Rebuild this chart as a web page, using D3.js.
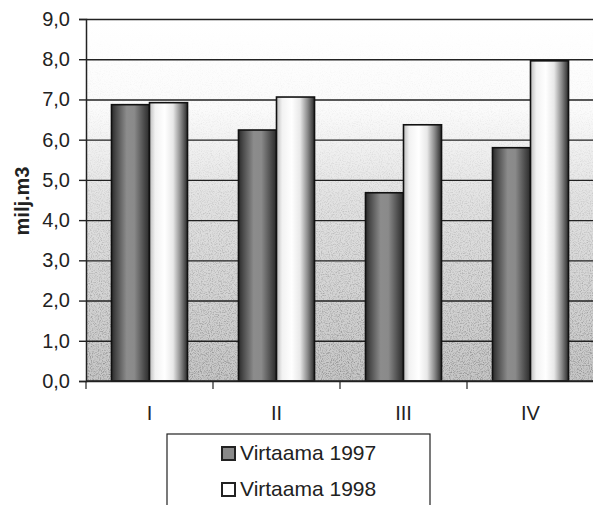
<!DOCTYPE html>
<html>
<head>
<meta charset="utf-8">
<script src="https://cdn.jsdelivr.net/npm/d3@7"></script>
<style>
  body { margin: 0; background: #fff; }
  text { font-family: Arial, "Liberation Sans", sans-serif; fill: #222; }
</style>
</head>
<body>
<div id="chart"></div>
<script>
// Virtaama per quarter, milj. m3
const quarters = ["I", "II", "III", "IV"];
const series = ["Virtaama 1997", "Virtaama 1998"];
const values1997 = [6.87, 6.24, 4.68, 5.80];
const values1998 = [6.92, 7.06, 6.37, 7.96];
const yTicks = [0, 1, 2, 3, 4, 5, 6, 7, 8, 9];

const width = 593, height = 505;
const margin = {top: 19, right: -1, bottom: 124, left: 86};
const plotW = width - margin.left - margin.right;
const plotH = height - margin.top - margin.bottom;

const svg = d3.select("#chart").append("svg")
    .attr("width", width)
    .attr("height", height);

const defs = svg.append("defs");

// background: white at top fading into a speckled grey
const bg = defs.append("linearGradient").attr("id", "bgGrad")
    .attr("x1", 0).attr("y1", 0).attr("x2", 0).attr("y2", 1);
bg.append("stop").attr("offset", "0%").attr("stop-color", "#ffffff");
bg.append("stop").attr("offset", "25%").attr("stop-color", "#fbfbfb");
bg.append("stop").attr("offset", "50%").attr("stop-color", "#e2e2e2");
bg.append("stop").attr("offset", "100%").attr("stop-color", "#c6c6c6");

const noise = defs.append("filter").attr("id", "speckle")
    .attr("x", 0).attr("y", 0).attr("width", "100%").attr("height", "100%");
noise.append("feTurbulence").attr("type", "fractalNoise")
    .attr("baseFrequency", 0.9).attr("numOctaves", 2).attr("seed", 3);
noise.append("feColorMatrix").attr("type", "matrix")
    .attr("values", "0 0 0 0 0  0 0 0 0 0  0 0 0 0 0  0 0 0 -1.6 0.9");

const fade = defs.append("linearGradient").attr("id", "fadeGrad")
    .attr("x1", 0).attr("y1", 0).attr("x2", 0).attr("y2", 1);
fade.append("stop").attr("offset", "0%").attr("stop-color", "#fff").attr("stop-opacity", 0);
fade.append("stop").attr("offset", "35%").attr("stop-color", "#fff").attr("stop-opacity", 0.2);
fade.append("stop").attr("offset", "100%").attr("stop-color", "#fff").attr("stop-opacity", 1);
defs.append("mask").attr("id", "fadeMask")
  .append("rect").attr("width", plotW).attr("height", plotH).attr("fill", "url(#fadeGrad)");

// cylinder shading for the bars
const darkGrad = defs.append("linearGradient").attr("id", "dark");
[["0%", "#2a2a2a"], ["12%", "#4a4a4a"], ["40%", "#8c8c8c"], ["60%", "#8a8a8a"], ["85%", "#4d4d4d"], ["100%", "#2a2a2a"]]
  .forEach(([o, c]) => darkGrad.append("stop").attr("offset", o).attr("stop-color", c));
const lightGrad = defs.append("linearGradient").attr("id", "light");
[["0%", "#bdbdbd"], ["15%", "#f2f2f2"], ["40%", "#ffffff"], ["62%", "#e8e8e8"], ["82%", "#8a8a8a"], ["100%", "#2a2a2a"]]
  .forEach(([o, c]) => lightGrad.append("stop").attr("offset", o).attr("stop-color", c));
const fills = ["url(#dark)", "url(#light)"];

const g = svg.append("g").attr("transform", `translate(${margin.left},${margin.top})`);

const x = d3.scaleBand().domain(quarters).range([0, plotW]).padding(0);
const x1 = d3.scaleBand().domain(series).range([0, x.bandwidth()])
    .paddingInner(0).paddingOuter(0.67);
const y = d3.scaleLinear().domain([0, 9]).range([plotH, 0]);

g.append("rect").attr("width", plotW).attr("height", plotH).attr("fill", "url(#bgGrad)");
g.append("rect").attr("width", plotW).attr("height", plotH)
    .attr("filter", "url(#speckle)").attr("mask", "url(#fadeMask)").attr("opacity", 0.45);

// gridlines
g.append("g")
    .call(d3.axisLeft(y).tickValues(yTicks).tickSize(-plotW).tickFormat(""))
    .call(s => s.select(".domain").remove())
    .call(s => s.selectAll("line").attr("stroke", "#222").attr("stroke-width", 1.4));

// bars
const data = quarters.map((q, i) => ({q, vals: [values1997[i], values1998[i]]}));
const groups = g.selectAll(".grp").data(data).join("g")
    .attr("transform", d => `translate(${x(d.q)},0)`);
groups.selectAll("rect").data(d => d.vals.map((v, j) => ({s: series[j], v, j}))).join("rect")
    .attr("x", d => x1(d.s))
    .attr("y", d => y(d.v))
    .attr("width", x1.bandwidth())
    .attr("height", d => plotH - y(d.v))
    .attr("fill", d => fills[d.j])
    .attr("stroke", "#111")
    .attr("stroke-width", 1.6);

// y axis
const yAxis = g.append("g")
    .call(d3.axisLeft(y).tickValues(yTicks).tickSize(7).tickPadding(9)
      .tickFormat(d => d3.format(".1f")(d).replace(".", ",")));
yAxis.select(".domain").attr("stroke", "#222").attr("stroke-width", 1.5);
yAxis.selectAll("line").attr("stroke", "#222").attr("stroke-width", 1.4);
yAxis.selectAll("text").attr("font-size", 20).attr("fill", "#222");

// x axis with ticks between categories
const xAxis = g.append("g").attr("transform", `translate(0,${plotH})`);
xAxis.append("line").attr("x1", 0).attr("x2", plotW).attr("stroke", "#222").attr("stroke-width", 1.5);
xAxis.selectAll(".tk").data(quarters).join("line")
    .attr("x1", d => x(d)).attr("x2", d => x(d))
    .attr("y1", 0).attr("y2", 8)
    .attr("stroke", "#222").attr("stroke-width", 1.2);
xAxis.selectAll(".lbl").data(quarters).join("text")
    .attr("x", d => x(d) + x.bandwidth() / 2)
    .attr("y", 39)
    .attr("text-anchor", "middle")
    .attr("font-size", 20)
    .text(d => d);

// y label
svg.append("text")
    .attr("transform", `translate(29,${201}) rotate(-90)`)
    .attr("text-anchor", "middle")
    .attr("font-size", 20)
    .attr("font-weight", "bold")
    .text("milj.m3");

// legend
const leg = svg.append("g").attr("transform", "translate(167,434)");
leg.append("rect").attr("width", 263).attr("height", 80)
    .attr("fill", "#fff").attr("stroke", "#222").attr("stroke-width", 1.2);
const legSw = ["#8a8a8a", "#ffffff"];
const items = leg.selectAll(".it").data(series).join("g")
    .attr("transform", (d, i) => `translate(55,${19 + i * 36})`);
items.append("rect").attr("x", 0).attr("y", -6).attr("width", 13).attr("height", 13)
    .attr("fill", (d, i) => legSw[i]).attr("stroke", "#222").attr("stroke-width", 2);
items.append("text").attr("x", 18).attr("y", 0).attr("dy", "0.35em")
    .attr("font-size", 21).text(d => d);
</script>
</body>
</html>
